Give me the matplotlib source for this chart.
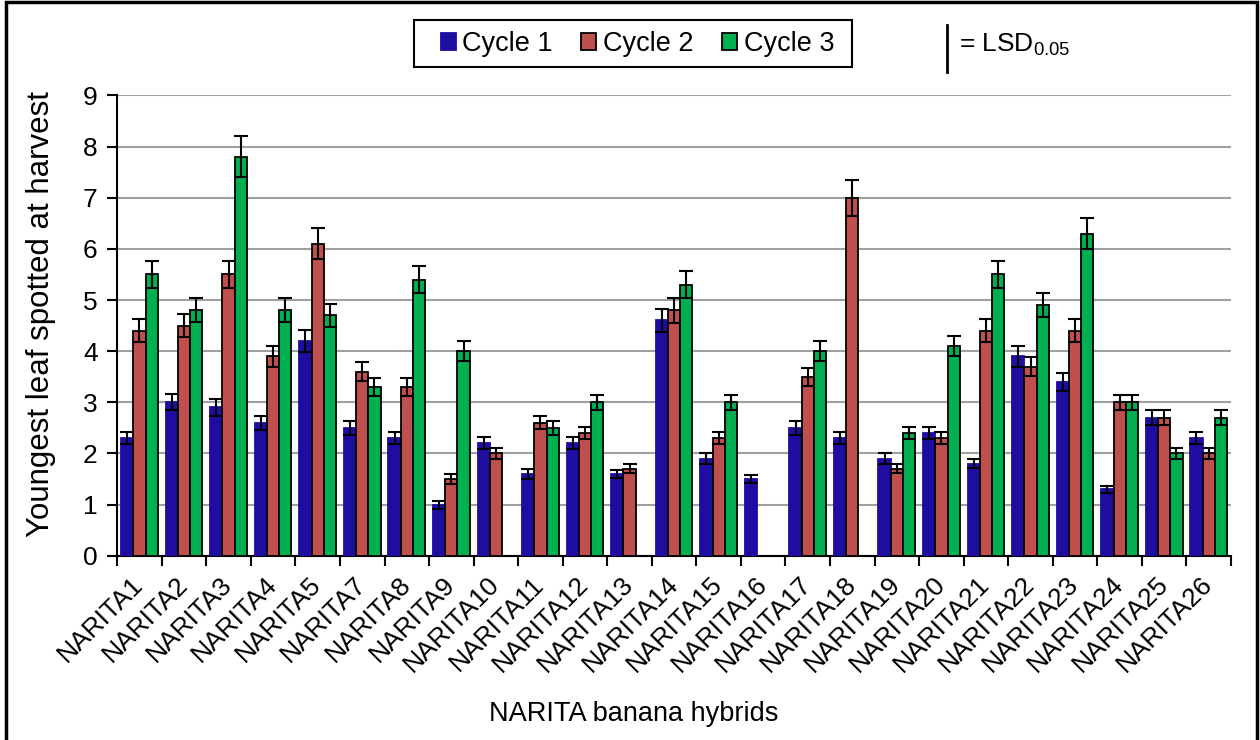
import matplotlib.pyplot as plt
import numpy as np
from matplotlib.patches import Rectangle

plt.rcParams["font.family"] = ["Liberation Sans", "DejaVu Sans"]
plt.rcParams["mathtext.fontset"] = "custom"
plt.rcParams["mathtext.rm"] = "Liberation Sans"

hybrids = [
    "NARITA1", "NARITA2", "NARITA3", "NARITA4", "NARITA5", "NARITA7",
    "NARITA8", "NARITA9", "NARITA10", "NARITA11", "NARITA12", "NARITA13",
    "NARITA14", "NARITA15", "NARITA16", "NARITA17", "NARITA18", "NARITA19",
    "NARITA20", "NARITA21", "NARITA22", "NARITA23", "NARITA24", "NARITA25",
    "NARITA26",
]
nan = np.nan
cycle1 = [2.3, 3.0, 2.9, 2.6, 4.2, 2.5, 2.3, 1.0, 2.2, 1.6, 2.2, 1.6, 4.6,
          1.9, 1.5, 2.5, 2.3, 1.9, 2.4, 1.8, 3.9, 3.4, 1.3, 2.7, 2.3]
cycle2 = [4.4, 4.5, 5.5, 3.9, 6.1, 3.6, 3.3, 1.5, 2.0, 2.6, 2.4, 1.7, 4.8,
          2.3, nan, 3.5, 7.0, 1.7, 2.3, 4.4, 3.7, 4.4, 3.0, 2.7, 2.0]
cycle3 = [5.5, 4.8, 7.8, 4.8, 4.7, 3.3, 5.4, 4.0, nan, 2.5, 3.0, nan, 5.3,
          3.0, nan, 4.0, nan, 2.4, 4.1, 5.5, 4.9, 6.3, 3.0, 2.0, 2.7]
lsd1 = [0.12, 0.16, 0.16, 0.14, 0.21, 0.14, 0.12, 0.08, 0.12, 0.09, 0.12,
        0.08, 0.23, 0.10, 0.08, 0.13, 0.12, 0.10, 0.12, 0.09, 0.20, 0.17,
        0.07, 0.14, 0.12]
lsd2 = [0.22, 0.23, 0.27, 0.20, 0.30, 0.19, 0.17, 0.10, 0.10, 0.13, 0.12,
        0.09, 0.24, 0.12, nan, 0.18, 0.35, 0.09, 0.12, 0.22, 0.19, 0.22,
        0.15, 0.14, 0.10]
lsd3 = [0.27, 0.23, 0.40, 0.23, 0.23, 0.17, 0.27, 0.20, nan, 0.13, 0.15,
        nan, 0.27, 0.15, nan, 0.20, nan, 0.12, 0.20, 0.27, 0.24, 0.31,
        0.15, 0.10, 0.14]

series = [
    ("Cycle 1", cycle1, lsd1, "#1F0CA0", "#1F0CA0"),
    ("Cycle 2", cycle2, lsd2, "#C0504D", "black"),
    ("Cycle 3", cycle3, lsd3, "#00B050", "black"),
]

fig = plt.figure(figsize=(12.6, 7.4), dpi=100)
ax = fig.add_axes([0.093, 0.249, 0.884, 0.622])

x = np.arange(len(hybrids))
width = 0.275
for i, (name, vals, errs, color, edge) in enumerate(series):
    pos = x + (i - 1) * width
    ax.bar(pos, vals, width, color=color, edgecolor=edge, linewidth=1.3,
           label=name, zorder=3)
    ax.errorbar(pos, vals, yerr=errs, fmt="none", ecolor="black",
                elinewidth=1.5, capsize=5, capthick=1.5, zorder=4)

ax.set_xlim(-0.5, len(hybrids) - 0.5)
ax.set_ylim(0, 9)
ax.set_yticks(range(0, 10))
ax.yaxis.grid(True, color="#A0A0A0", linewidth=1.5, zorder=0)
ax.set_axisbelow(True)
for side in ["top", "right"]:
    ax.spines[side].set_visible(False)
for side in ["left", "bottom"]:
    ax.spines[side].set_linewidth(1.5)

ax.set_xticks(x)
ax.set_xticklabels(hybrids, rotation=45, ha="right", va="center",
                   rotation_mode="anchor", fontsize=19)
ax.tick_params(axis="x", which="major", length=0, pad=18)
ax.set_xticks(np.arange(-0.5, len(hybrids)), minor=True)
ax.tick_params(axis="x", which="minor", length=7, width=1.5, direction="out")
ax.tick_params(axis="y", length=7, width=1.5, labelsize=19, pad=7)

ax.set_ylabel("Youngest leaf spotted at harvest", fontsize=22.5)
ax.yaxis.set_label_coords(-0.055, 0.526)
fig.text(0.503, 0.035, "NARITA banana hybrids", ha="center", va="center",
         fontsize=19.5)

leg = fig.legend(loc="center", bbox_to_anchor=(0.506, 0.9405), ncol=3,
                 fontsize=19.5, frameon=False,
                 handlelength=0.55, handleheight=0.55, handletextpad=0.25,
                 columnspacing=1.05, borderpad=0.0)
fig.add_artist(Rectangle((0.3286, 0.9095), 0.3476, 0.0635, fill=False,
                         edgecolor="black", linewidth=1.5,
                         transform=fig.transFigure))

# LSD key
fig.add_artist(plt.Line2D([0.7513, 0.7513], [0.903, 0.966], color="black",
                          linewidth=2, transform=fig.transFigure))
fig.text(0.761, 0.939, r"= LSD$_{0.05}$", ha="left", va="center", fontsize=19)

fig.add_artist(Rectangle((0.005, -0.01), 0.993, 1.007, fill=False,
                         edgecolor="black", linewidth=2.5,
                         transform=fig.transFigure))

fig.savefig("out.png", dpi=100)
